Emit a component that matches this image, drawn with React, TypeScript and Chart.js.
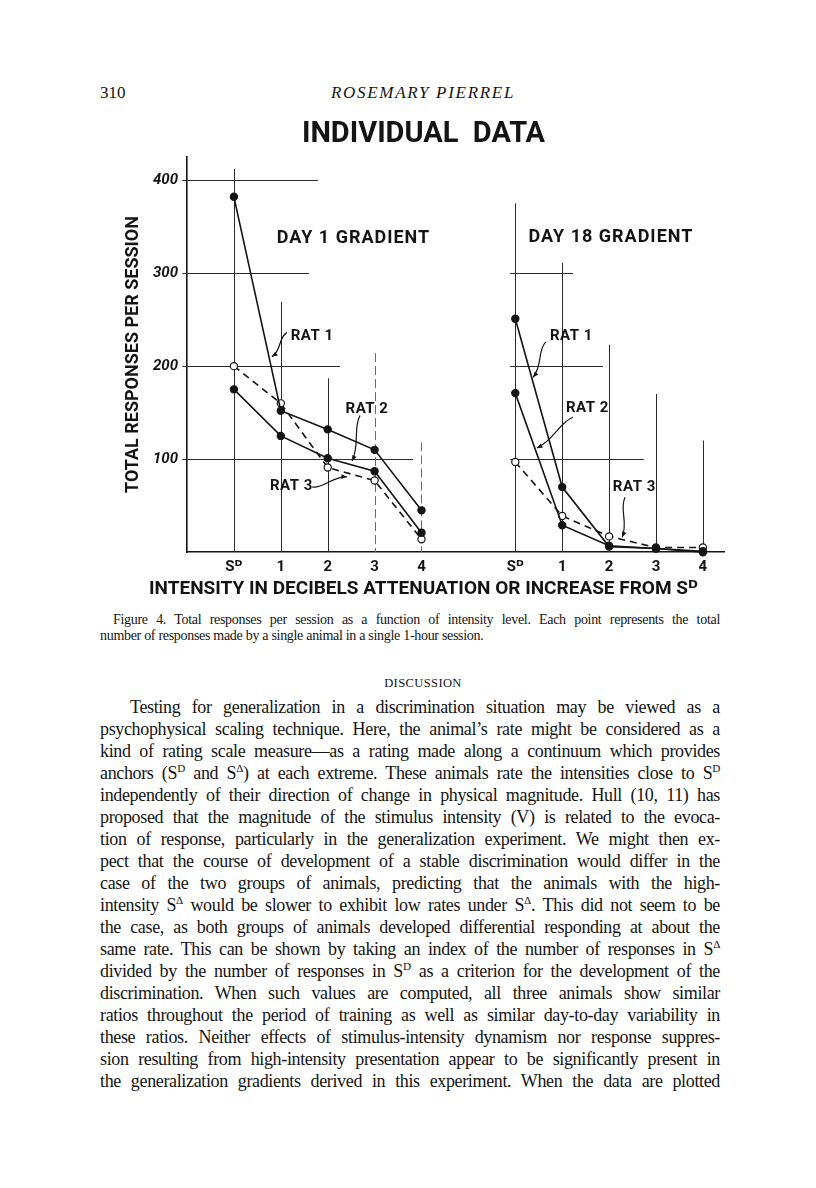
import React, { useEffect, useRef } from 'react';
import { Chart, registerables } from 'chart.js';

Chart.register(...registerables);

// ---------- data ----------
const categories = ['Sᴰ', '1', '2', '3', '4'];
const day1Rat1 = [382, 152, 132, 110, 45];
const day1Rat2 = [175, 125, 101, 87, 21];
const day1Rat3 = [200, 160, 91, 77, 14];
const day18Rat1 = [251, 70, 6, 4, 1];
const day18Rat2 = [171, 29, 7, 4, 0];
const day18Rat3 = [97, 39, 17, 5, 5];
const yTickValues = [100, 200, 300, 400];
const panelOffsets = [0, 6];
const panelTitles = ['DAY 1 GRADIENT', 'DAY 18 GRADIENT'];
const panelTitleAnchors = [
  [2.55, 337],
  [8.04, 338],
];

// hand-drawn guide lines, in data units: [value, fromX, toX]
const hGuides = [
  [400, -1.1, 1.79],
  [300, -1.1, 1.6],
  [200, -1.1, 2.26],
  [100, -1.1, 3.82],
  [300, 5.89, 7.23],
  [200, 5.89, 7.87],
  [100, 5.89, 8.74],
];
// [x, topValue, broken]
const vGuides = [
  [0, 412, 0],
  [1, 269, 0],
  [2, 187, 0],
  [3, 214, 1],
  [4, 118, 1],
  [6, 375, 0],
  [7, 311, 0],
  [8, 223, 0],
  [9, 170, 0],
  [10, 120, 0],
];
// [text, x, y, leaderFromX, leaderFromY, arrowX, arrowY]
const ratLabels: [string, number, number, number, number, number, number][] = [
  ['RAT 1', 1.21, 232, 1.13, 236, 0.81, 210],
  ['RAT 2', 2.38, 154, 2.69, 147, 2.52, 98],
  ['RAT 3', 0.77, 71, 1.67, 70, 2.41, 81],
  ['RAT 1', 6.74, 232, 6.65, 226, 6.38, 188],
  ['RAT 2', 7.08, 155, 7.23, 145, 6.46, 112],
  ['RAT 3', 8.08, 70, 8.34, 59, 8.28, 16],
];

const series = [
  { label: 'Rat 1 (Day 1)', values: day1Rat1, panel: 0, open: false },
  { label: 'Rat 2 (Day 1)', values: day1Rat2, panel: 0, open: false },
  { label: 'Rat 3 (Day 1)', values: day1Rat3, panel: 0, open: true },
  { label: 'Rat 1 (Day 18)', values: day18Rat1, panel: 1, open: false },
  { label: 'Rat 2 (Day 18)', values: day18Rat2, panel: 1, open: false },
  { label: 'Rat 3 (Day 18)', values: day18Rat3, panel: 1, open: true },
];

// ---------- page text ----------
const captionLines = [
  'Figure 4. Total responses per session as a function of intensity level. Each point represents the total',
  'number of responses made by a single animal in a single 1-hour session.',
];
const bodyLines = [
  'Testing for generalization in a discrimination situation may be viewed as a',
  'psychophysical scaling technique. Here, the animal\u2019s rate might be considered as a',
  'kind of rating scale measure\u2014as a rating made along a continuum which provides',
  'anchors (S{D} and S{\u0394}) at each extreme. These animals rate the intensities close to S{D}',
  'independently of their direction of change in physical magnitude. Hull (10, 11) has',
  'proposed that the magnitude of the stimulus intensity (V) is related to the evoca-',
  'tion of response, particularly in the generalization experiment. We might then ex-',
  'pect that the course of development of a stable discrimination would differ in the',
  'case of the two groups of animals, predicting that the animals with the high-',
  'intensity S{\u0394} would be slower to exhibit low rates under S{\u0394}. This did not seem to be',
  'the case, as both groups of animals developed differential responding at about the',
  'same rate. This can be shown by taking an index of the number of responses in S{\u0394}',
  'divided by the number of responses in S{D} as a criterion for the development of the',
  'discrimination. When such values are computed, all three animals show similar',
  'ratios throughout the period of training as well as similar day-to-day variability in',
  'these ratios. Neither effects of stimulus-intensity dynamism nor response suppres-',
  'sion resulting from high-intensity presentation appear to be significantly present in',
  'the generalization gradients derived in this experiment. When the data are plotted',
];

const INK = '#141414';
const LETTER = 'Roboto, "DejaVu Sans", sans-serif';
const SERIF = '"Liberation Serif", "Times New Roman", serif';

function renderSup(line: string) {
  const parts = line.split(/\{(.)\}/);
  return parts.map((p, i) =>
    i % 2 === 1 ? (
      <span key={i} style={{ fontSize: '0.62em', position: 'relative', top: '-0.6em' }}>{p}</span>
    ) : (
      <React.Fragment key={i}>{p}</React.Fragment>
    )
  );
}

const guidePlugin = {
  id: 'guides',
  beforeDatasetsDraw(chart: any) {
    const { ctx, scales } = chart;
    const xs = scales.x;
    const ys = scales.y;
    ctx.save();
    ctx.strokeStyle = '#2a2a2a';
    ctx.lineWidth = 1;
    hGuides.forEach(([v, a, b]) => {
      const y = Math.round(ys.getPixelForValue(v)) + 0.5;
      ctx.beginPath();
      ctx.moveTo(xs.getPixelForValue(a), y);
      ctx.lineTo(xs.getPixelForValue(b), y);
      ctx.stroke();
    });
    vGuides.forEach(([xv, top, broken]) => {
      const x = Math.round(xs.getPixelForValue(xv)) + 0.5;
      ctx.save();
      if (broken) {
        ctx.strokeStyle = '#6a6a6a';
        ctx.setLineDash([9, 4]);
      }
      ctx.beginPath();
      ctx.moveTo(x, ys.getPixelForValue(top));
      ctx.lineTo(x, ys.getPixelForValue(0));
      ctx.stroke();
      ctx.restore();
    });
    ctx.restore();
  },
  afterDatasetsDraw(chart: any) {
    const { ctx, scales } = chart;
    const xs = scales.x;
    const ys = scales.y;
    ctx.save();
    ctx.fillStyle = INK;
    ctx.textBaseline = 'middle';
    // panel titles
    ctx.font = `bold 18px ${LETTER}`;
    (ctx as any).letterSpacing = '1px';
    ctx.textAlign = 'center';
    panelTitles.forEach((t, i) => {
      const [ax, ay] = panelTitleAnchors[i];
      ctx.fillText(t, xs.getPixelForValue(ax), ys.getPixelForValue(ay));
    });
    // rat labels with wavy leaders
    ctx.font = `bold 15px ${LETTER}`;
    (ctx as any).letterSpacing = '0.5px';
    ctx.textAlign = 'left';
    ctx.strokeStyle = INK;
    ctx.lineWidth = 1.2;
    ratLabels.forEach(([t, tx, ty, fx, fy, ex, ey]) => {
      ctx.fillText(t, xs.getPixelForValue(tx), ys.getPixelForValue(ty));
      const x0 = xs.getPixelForValue(fx);
      const y0 = ys.getPixelForValue(fy);
      const x1 = xs.getPixelForValue(ex);
      const y1 = ys.getPixelForValue(ey);
      const dx = x1 - x0;
      const dy = y1 - y0;
      const len = Math.hypot(dx, dy);
      const px = -dy / len;
      const py = dx / len;
      const k = 5;
      const c1x = x0 + dx * 0.3 + px * k;
      const c1y = y0 + dy * 0.3 + py * k;
      const c2x = x0 + dx * 0.6 - px * k;
      const c2y = y0 + dy * 0.6 - py * k;
      ctx.beginPath();
      ctx.moveTo(x0, y0);
      ctx.bezierCurveTo(c1x, c1y, c2x, c2y, x1, y1);
      ctx.stroke();
      const ang = Math.atan2(y1 - c2y, x1 - c2x);
      const ah = 6;
      ctx.beginPath();
      ctx.moveTo(x1, y1);
      ctx.lineTo(x1 - ah * Math.cos(ang - 0.4), y1 - ah * Math.sin(ang - 0.4));
      ctx.lineTo(x1 - ah * Math.cos(ang + 0.4), y1 - ah * Math.sin(ang + 0.4));
      ctx.closePath();
      ctx.fill();
    });
    ctx.restore();
  },
};

function GradientChart() {
  const ref = useRef<HTMLCanvasElement | null>(null);
  useEffect(() => {
    if (!ref.current) return;
    const datasets = series.map((s) => ({
      label: s.label,
      data: s.values.map((v, i) => ({ x: i + panelOffsets[s.panel], y: v })),
      borderColor: INK,
      borderWidth: 1.6,
      borderDash: s.open ? [7, 5] : [],
      pointRadius: 3.6,
      pointBorderWidth: 1.2,
      pointBorderColor: INK,
      pointBackgroundColor: s.open ? '#ffffff' : INK,
      fill: false,
      tension: 0,
      clip: false as any,
    }));
    const chart = new Chart(ref.current, {
      type: 'line',
      data: { datasets },
      options: {
        animation: false,
        responsive: false,
        devicePixelRatio: 1,
        layout: { padding: { left: 123, right: 92, top: 17, bottom: 9 } },
        plugins: {
          legend: { display: false },
          tooltip: { enabled: false },
          title: {
            display: true,
            text: 'INDIVIDUAL  DATA',
            color: INK,
            font: { family: LETTER, size: 29, weight: 'bold' },
            padding: { top: 0, bottom: 5 },
          },
          subtitle: {
            display: true,
            position: 'bottom',
            text: 'INTENSITY IN DECIBELS ATTENUATION OR INCREASE FROM Sᴰ',
            color: INK,
            font: { family: LETTER, size: 19, weight: 'bold' },
            padding: { top: 0, bottom: 0 },
          },
        },
        scales: {
          x: {
            type: 'linear',
            min: -1,
            max: 10.45,
            grid: { display: false, drawTicks: false },
            border: { display: true, color: INK, width: 1.6 },
            afterBuildTicks: (s: any) => {
              const vals: number[] = [];
              panelOffsets.forEach((o) => categories.forEach((_, i) => vals.push(i + o)));
              s.ticks = vals.map((v) => ({ value: v }));
            },
            ticks: {
              autoSkip: false,
              maxRotation: 0,
              padding: 6,
              color: INK,
              font: { family: LETTER, size: 15, weight: 'bold' },
              callback: (value: any) => {
                const v = Number(value);
                const off = v >= panelOffsets[1] ? panelOffsets[1] : panelOffsets[0];
                return categories[Math.round(v - off)] ?? '';
              },
            },
            afterFit: (s: any) => {
              s.height = 26;
            },
          },
          y: {
            min: 0,
            max: 425,
            grid: { display: false, drawTicks: false },
            border: { display: true, color: INK, width: 1.6 },
            afterBuildTicks: (s: any) => {
              s.ticks = yTickValues.map((v) => ({ value: v }));
            },
            ticks: {
              padding: 9,
              color: INK,
              font: { family: LETTER, size: 15, weight: 'bold', style: 'italic' },
            },
            title: {
              display: true,
              text: 'TOTAL RESPONSES PER SESSION',
              color: INK,
              font: { family: LETTER, size: 18, weight: 'bold' },
              padding: { top: 0, bottom: 0 },
            },
            afterFit: (s: any) => {
              s.width = 64;
            },
          },
        },
      } as any,
      plugins: [guidePlugin],
    });
    return () => chart.destroy();
  }, []);
  return (
    <canvas
      ref={ref}
      width={816}
      height={510}
      style={{ position: 'absolute', left: 0, top: 100, width: 816, height: 510 }}
    />
  );
}

export default function App() {
  return (
    <div
      style={{
        position: 'absolute',
        left: 0,
        top: 0,
        width: 816,
        height: 1188,
        background: '#ffffff',
        color: INK,
        fontFamily: SERIF,
        overflow: 'hidden',
      }}
    >
      <div style={{ position: 'absolute', left: 100, top: 84, fontSize: 17, lineHeight: '18px' }}>310</div>
      <div
        style={{
          position: 'absolute',
          left: 263,
          width: 320,
          top: 84,
          textAlign: 'center',
          fontSize: 17,
          lineHeight: '18px',
          fontStyle: 'italic',
          letterSpacing: '1.7px',
        }}
      >
        ROSEMARY PIERREL
      </div>
      <GradientChart />
      {captionLines.map((l, i) => (
        <div
          key={i}
          style={{
            position: 'absolute',
            left: 100,
            width: 620,
            top: 612 + i * 16,
            fontSize: 14,
            lineHeight: '16px',
            letterSpacing: '-0.3px',
            whiteSpace: 'nowrap',
            textIndent: i === 0 ? 13 : 0,
            textAlign: 'justify',
            textAlignLast: i === captionLines.length - 1 ? 'left' : 'justify',
          }}
        >
          {l}
        </div>
      ))}
      <div
        style={{
          position: 'absolute',
          left: 273,
          width: 300,
          top: 676,
          textAlign: 'center',
          fontSize: 12.5,
          lineHeight: '14px',
          letterSpacing: '0.4px',
        }}
      >
        DISCUSSION
      </div>
      {bodyLines.map((l, i) => (
        <div
          key={i}
          style={{
            position: 'absolute',
            left: 100,
            width: 620,
            top: 696 + i * 22,
            fontSize: 18,
            lineHeight: '22px',
            letterSpacing: '-0.35px',
            whiteSpace: 'nowrap',
            textIndent: i === 0 ? 30 : 0,
            textAlign: 'justify',
            textAlignLast: 'justify',
          }}
        >
          {renderSup(l)}
        </div>
      ))}
    </div>
  );
}
